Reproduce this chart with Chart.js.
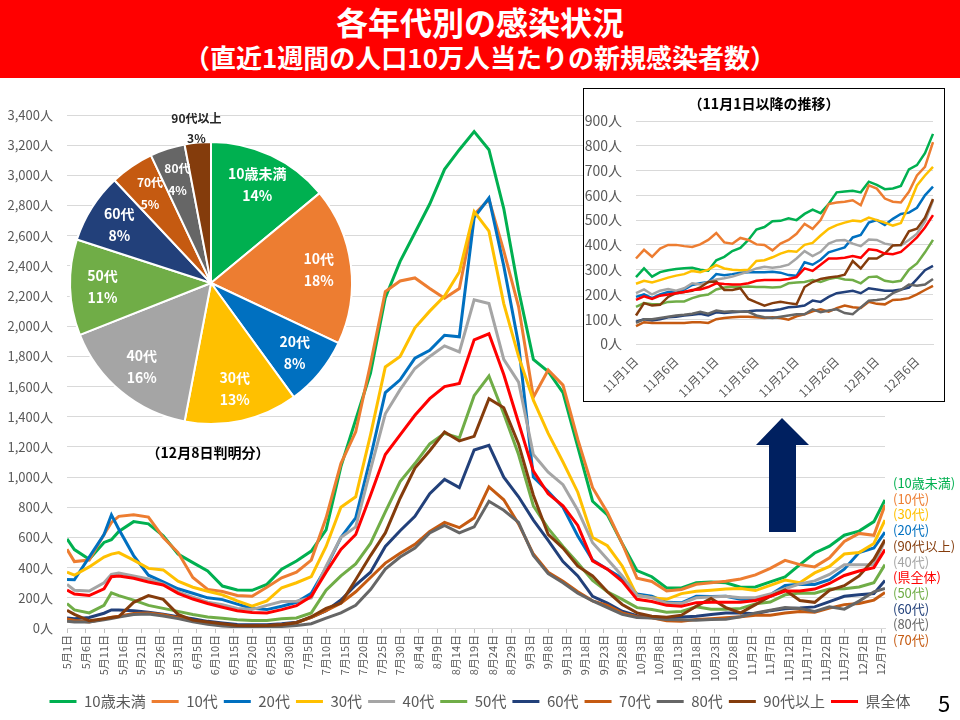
<!DOCTYPE html>
<html lang="ja">
<head>
<meta charset="utf-8">
<script src="https://cdn.jsdelivr.net/npm/chart.js@4.4.1/dist/chart.umd.min.js"></script>
<style>
  body { margin: 0; width: 960px; height: 720px; position: relative; overflow: hidden; background: #fff;
         font-family: "Noto Sans CJK JP", "Noto Sans", sans-serif; }
  .abs { position: absolute; }
  #head { left: 0; top: 0; width: 960px; height: 78px; background: #ff0000; color: #fff; font-weight: bold; text-align: center; }
  #t1 { position: absolute; left: 0; top: 1px; width: 960px; font-size: 32px; line-height: 40px; }
  #t2 { position: absolute; left: 0; top: 39px; width: 960px; font-size: 26px; line-height: 36px; }
  #mainChart { left: 0; top: 80px; }
  #pieChart { left: 51px; top: 100px; }
  #inset { left: 583px; top: 88px; width: 360px; height: 312px; border: 1.5px solid #000; background: #fff; }
  #insetTitle { position: absolute; left: 0; top: 4px; width: 360px; text-align: center; font-weight: bold; font-size: 14px; line-height: 20px; color: #000; }
  #insetChart { position: absolute; left: 0; top: 0; }
  #pieNote { left: 108px; top: 442px; width: 200px; text-align: center; font-weight: bold; font-size: 14px; line-height: 20px; color: #000; }
  #pageNo { left: 938px; top: 688px; font-size: 22px; line-height: 28px; color: #000; }
  .endLabel { position: absolute; left: 893px; font-size: 13px; line-height: 16px; white-space: nowrap; }
</style>
</head>
<body>
<div id="head" class="abs">
  <div id="t1">各年代別の感染状況</div>
  <div id="t2">（直近1週間の人口10万人当たりの新規感染者数）</div>
</div>
<canvas id="mainChart" class="abs" width="960" height="640"></canvas>
<canvas id="pieChart" class="abs" width="320" height="340"></canvas>
<div id="pieNote" class="abs">（12月8日判明分）</div>
<div id="inset" class="abs">
  <canvas id="insetChart" width="360" height="312"></canvas>
  <div id="insetTitle">（11月1日以降の推移）</div>
</div>
<svg class="abs" style="left:750px;top:412px" width="66" height="124">
  <polygon points="32,6 59,33 46,33 46,120 19,120 19,33 6,33" fill="#002060"/>
</svg>
<div id="endLabels"></div>
<div id="pageNo" class="abs">5</div>
<script>
// 系列名と色
const seriesNames = ['10歳未満', '10代', '20代', '30代', '40代', '50代', '60代', '70代', '80代', '90代以上', '県全体'];
const seriesColors = ['#00B050', '#ED7D31', '#0070C0', '#FFC000', '#A5A5A5', '#70AD47', '#22407A', '#C55A11', '#666666', '#843C0C', '#FF0000'];

// 5月1日からの日数（読み取り位置）
const sampleDays = [0, 2, 6, 10, 12, 14, 18, 22, 26, 30, 34, 38, 42, 46, 50, 54, 58, 62, 66, 70,
  74, 78, 82, 86, 90, 94, 98, 102, 106, 110, 114, 118, 122, 126, 130, 134, 138, 142, 146, 150,
  154, 158, 162, 166, 170, 174, 178, 182, 186, 190, 194, 198, 202, 206, 210, 214, 218, 221];

// 横軸の目盛ラベル（5日おき）
const mainTickLabels = ['5月1日', '5月6日', '5月11日', '5月16日', '5月21日', '5月26日', '5月31日',
  '6月5日', '6月10日', '6月15日', '6月20日', '6月25日', '6月30日',
  '7月5日', '7月10日', '7月15日', '7月20日', '7月25日', '7月30日',
  '8月4日', '8月9日', '8月14日', '8月19日', '8月24日', '8月29日',
  '9月3日', '9月8日', '9月13日', '9月18日', '9月23日', '9月28日',
  '10月3日', '10月8日', '10月13日', '10月18日', '10月23日', '10月28日',
  '11月2日', '11月7日', '11月12日', '11月17日', '11月22日', '11月27日',
  '12月2日', '12月7日'];

// メイングラフ（人口10万人当たり）
const mUnder10 = [590,520,455,567,585,640,705,690,611,490,433,378,278,252,250,289,389,444,510,650,
  1070,1380,1690,2190,2430,2620,2810,3040,3170,3290,3170,2780,2240,1780,1700,1560,1200,840,750,560,
  380,340,265,265,300,305,300,270,272,306,338,420,497,542,615,642,705,848];
const m10s = [522,440,450,620,700,740,750,735,600,500,335,256,242,215,210,270,333,370,450,730,
  1090,1300,1750,2230,2300,2320,2250,2185,2250,2740,2840,2500,2130,1530,1710,1610,1250,930,765,560,
  330,308,245,255,290,300,310,325,352,395,448,420,405,465,574,627,614,815];
const m20s = [322,320,470,620,750,655,480,350,305,260,230,200,188,158,130,122,144,170,230,400,
  600,730,1130,1560,1645,1788,1840,1940,1930,2720,2850,2400,1880,1000,905,800,610,450,390,330,
  225,210,170,167,210,208,210,190,185,220,282,290,288,320,390,500,530,635];
const m30s = [371,350,405,470,490,500,450,395,385,310,270,244,220,180,145,180,267,300,340,540,
  800,870,1280,1730,1800,1990,2100,2200,2360,2760,2630,2150,1800,1510,1290,1100,900,600,545,411,
  215,200,190,228,244,250,258,262,248,282,318,300,365,408,490,500,560,715];
const m40s = [289,250,245,300,355,365,345,325,290,240,205,171,155,130,122,150,175,178,200,410,
  600,670,1050,1420,1580,1720,1800,1870,1830,2175,2150,1780,1630,1150,1033,950,780,565,455,345,
  215,200,165,162,200,205,211,200,200,225,260,292,312,355,420,420,420,580];
const m50s = [162,120,100,150,233,215,185,150,130,110,90,73,65,55,50,50,62,67,100,250,
  345,425,560,770,970,1090,1220,1290,1260,1540,1670,1420,1150,810,660,540,430,315,240,190,
  135,122,105,110,140,125,125,130,160,172,220,232,230,258,260,272,300,420];
const m60s = [67,62,70,98,120,120,115,105,92,75,62,44,33,24,22,22,28,38,70,115,
  185,285,370,540,645,740,890,985,930,1180,1210,1000,870,715,580,440,345,210,165,111,
  82,75,67,73,78,90,100,100,95,115,128,132,140,175,210,220,228,315];
const m70s = [60,50,40,60,72,78,96,100,88,68,48,30,18,12,11,15,22,35,70,115,
  165,240,335,430,495,555,640,700,665,730,935,850,690,490,370,310,240,180,150,100,
  75,68,48,45,56,62,68,75,85,85,100,110,105,132,155,162,185,235];
const m80s = [44,40,40,55,62,72,89,92,80,62,42,25,13,8,7,7,10,16,28,65,
  100,150,255,390,470,530,630,680,630,670,840,780,700,480,360,300,230,180,135,90,
  70,67,56,55,52,56,58,75,100,118,135,130,110,140,125,178,240,262];
const m90s = [118,90,48,62,70,75,170,215,190,90,52,40,28,17,15,17,22,35,75,130,
  165,320,480,630,860,1060,1175,1300,1240,1270,1520,1460,1220,880,620,530,410,345,240,156,
  100,78,72,85,144,195,135,100,155,210,252,182,170,250,280,345,455,585];
const mAll = [251,225,215,260,340,344,330,305,285,230,192,162,138,115,103,100,122,148,210,370,
  520,620,880,1150,1280,1410,1520,1600,1620,1910,1950,1680,1360,1040,890,810,680,445,390,310,
  190,175,150,144,168,171,171,171,182,210,245,245,258,295,348,378,400,520];

// 11月1日以降（日別）
const insetLabels = [];
for (let d = 1; d <= 30; d++) insetLabels.push('11月' + d + '日');
for (let d = 1; d <= 8; d++) insetLabels.push('12月' + d + '日');

const nUnder10 = [270,305,272,290,298,303,306,308,300,296,338,352,375,388,420,462,472,495,497,507,500,525,542,528,565,612,615,618,612,655,642,625,628,638,705,722,770,848];
const n10s = [345,380,352,385,400,400,395,392,402,420,448,410,405,428,420,402,400,378,405,420,445,485,465,500,565,571,574,580,560,640,627,587,574,571,614,680,715,815];
const n20s = [190,200,185,200,210,210,220,238,245,250,282,278,282,288,290,290,290,292,288,278,275,330,320,340,370,380,390,430,440,490,500,480,505,525,530,550,600,635];
const n30s = [243,255,248,258,268,276,282,295,290,300,318,305,300,298,300,335,338,350,365,375,372,400,408,438,465,480,490,498,495,510,500,490,478,488,560,640,680,715];
const n40s = [205,220,200,215,222,215,225,245,240,250,260,265,272,282,292,305,312,308,312,320,345,375,355,372,405,418,420,405,395,422,420,405,400,398,420,445,495,580];
const n50s = [150,165,160,160,170,172,172,185,195,200,220,228,232,230,232,230,230,228,230,245,248,250,258,250,262,268,260,258,245,270,272,255,250,255,300,325,370,420];
const n60s = [90,100,95,100,108,110,115,118,122,115,128,125,128,130,132,135,135,135,140,148,150,155,175,170,190,205,210,215,205,225,220,215,215,220,228,262,298,315];
const n70s = [72,88,85,85,85,85,85,88,88,85,100,105,108,110,110,108,105,108,105,98,112,120,132,140,130,145,155,148,145,170,162,160,178,180,185,200,218,235];
const n80s = [85,100,100,105,110,115,118,122,130,122,135,130,132,130,130,115,108,105,110,115,120,120,140,128,135,140,125,120,148,175,178,182,205,218,240,235,240,262];
const n90s = [115,165,155,158,190,205,210,215,228,250,252,218,218,225,182,168,155,165,170,165,160,230,250,262,268,272,280,335,305,345,345,365,398,400,455,465,510,585];
const nAll = [178,192,182,195,200,205,210,218,220,230,245,242,240,240,245,255,258,258,258,262,270,305,295,320,345,345,348,355,348,382,378,365,362,372,400,430,470,520];

// 円グラフ（12月8日判明分、%）
const pieNames = ['10歳未満', '10代', '20代', '30代', '40代', '50代', '60代', '70代', '80代', '90代以上'];
const pieValues = [14, 18, 8, 13, 16, 11, 8, 5, 4, 3];

// 右端の系列ラベル（上から）
const endLabelNames = ['10歳未満', '10代', '30代', '20代', '90代以上', '40代', '県全体', '50代', '60代', '80代', '70代'];

const FONT = '"Noto Sans CJK JP", "Noto Sans", sans-serif';
Chart.defaults.font.family = FONT;
Chart.defaults.color = '#595959';

const mainSeries = [mUnder10, m10s, m20s, m30s, m40s, m50s, m60s, m70s, m80s, m90s, mAll];
const insetSeries = [nUnder10, n10s, n20s, n30s, n40s, n50s, n60s, n70s, n80s, n90s, nAll];

// メイングラフ
new Chart(document.getElementById('mainChart'), {
  type: 'line',
  data: {
    datasets: seriesNames.map((name, i) => ({
      label: name,
      data: sampleDays.map((d, j) => ({ x: d, y: mainSeries[i][j] })),
      borderColor: seriesColors[i],
      backgroundColor: seriesColors[i],
      borderWidth: 3,
      pointRadius: 0,
      tension: 0,
      order: seriesNames.length - i
    }))
  },
  options: {
    responsive: false,
    animation: false,
    layout: { padding: { left: 0, right: 0, top: 35, bottom: 1 } },
    plugins: {
      legend: {
        position: 'bottom',
        labels: {
          usePointStyle: true, pointStyle: 'line', pointStyleWidth: 27, padding: 6,
          font: { size: 15 }, color: '#595959',
          sort: (a, b) => a.datasetIndex - b.datasetIndex
        }
      },
      tooltip: { enabled: false }
    },
    scales: {
      x: {
        type: 'linear', min: 0, max: 221,
        ticks: {
          stepSize: 5, includeBounds: false, autoSkip: false,
          minRotation: 90, maxRotation: 90, padding: 2, font: { size: 11 },
          callback: v => mainTickLabels[v / 5]
        },
        grid: { drawOnChartArea: false, tickLength: 5, color: '#BFBFBF' },
        border: { color: '#D9D9D9' },
        afterFit: s => { s.height = 60; }
      },
      y: {
        min: 0, max: 3400,
        ticks: { stepSize: 200, padding: 14, font: { size: 13 }, callback: v => v.toLocaleString() + '人' },
        grid: { color: '#D9D9D9', drawTicks: false },
        border: { display: false },
        afterFit: s => { s.width = 67; }
      },
      y2: {
        position: 'right', display: true,
        ticks: { display: false }, grid: { display: false }, border: { display: false },
        afterFit: s => { s.width = 75; }
      }
    }
  }
});

// 円グラフのラベル
const pieLabelPlugin = {
  id: 'pieLabels',
  afterDatasetsDraw(chart) {
    const ctx = chart.ctx;
    const arcs = chart.getDatasetMeta(0).data;
    arcs.forEach((arc, i) => {
      const p = arc.getProps(['x', 'y', 'startAngle', 'endAngle', 'outerRadius'], true);
      const mid = (p.startAngle + p.endAngle) / 2;
      const last = i === arcs.length - 1;
      const size = pieValues[i] < 8 ? 12 : 14;
      const r = p.outerRadius * (last ? 1.1 : 0.77);
      const cx = p.x + Math.cos(mid) * r;
      const cy = p.y + Math.sin(mid) * r;
      ctx.save();
      ctx.font = 'bold ' + size + 'px ' + FONT;
      ctx.textAlign = 'center';
      ctx.textBaseline = 'middle';
      ctx.fillStyle = last ? '#262626' : '#ffffff';
      const gap = last ? 10 : 11;
      ctx.fillText(pieNames[i], cx, cy - gap);
      ctx.fillText(pieValues[i] + '%', cx, cy + gap);
      ctx.restore();
    });
  }
};

new Chart(document.getElementById('pieChart'), {
  type: 'pie',
  data: {
    labels: pieNames,
    datasets: [{
      data: pieValues,
      backgroundColor: seriesColors.slice(0, 10),
      borderColor: '#ffffff',
      borderWidth: 2,
      hoverOffset: 0
    }]
  },
  options: {
    responsive: false,
    animation: false,
    layout: { padding: { left: 18, right: 18, top: 41, bottom: 15 } },
    plugins: { legend: { display: false }, tooltip: { enabled: false } }
  },
  plugins: [pieLabelPlugin]
});

// 11月1日以降の推移
new Chart(document.getElementById('insetChart'), {
  type: 'line',
  data: {
    labels: insetLabels,
    datasets: seriesNames.map((name, i) => ({
      label: name,
      data: insetSeries[i],
      borderColor: seriesColors[i],
      backgroundColor: seriesColors[i],
      borderWidth: 2.5,
      pointRadius: 0,
      tension: 0,
      order: seriesNames.length - i
    }))
  },
  options: {
    responsive: false,
    animation: false,
    layout: { padding: { top: 32, right: 11, left: 0, bottom: 0 } },
    plugins: { legend: { display: false }, tooltip: { enabled: false } },
    scales: {
      x: {
        ticks: {
          autoSkip: false, minRotation: 45, maxRotation: 45, padding: 2, font: { size: 12 },
          callback: (v, i) => (i % 5 === 0 ? insetLabels[i] : null)
        },
        grid: { display: false },
        border: { color: '#D9D9D9' },
        afterFit: s => { s.height = 57; }
      },
      y: {
        min: 0, max: 900,
        ticks: { stepSize: 100, padding: 14, font: { size: 14 }, callback: v => v + '人' },
        grid: { color: '#D9D9D9', drawTicks: false },
        border: { display: false },
        afterFit: s => { s.width = 52; }
      }
    }
  }
});

// 右端のラベル
const holder = document.getElementById('endLabels');
endLabelNames.forEach((name, i) => {
  const el = document.createElement('div');
  el.className = 'endLabel';
  el.style.top = (475 + i * 15.7) + 'px';
  el.style.color = seriesColors[seriesNames.indexOf(name)];
  el.textContent = '(' + name + ')';
  holder.appendChild(el);
});
</script>
</body>
</html>
